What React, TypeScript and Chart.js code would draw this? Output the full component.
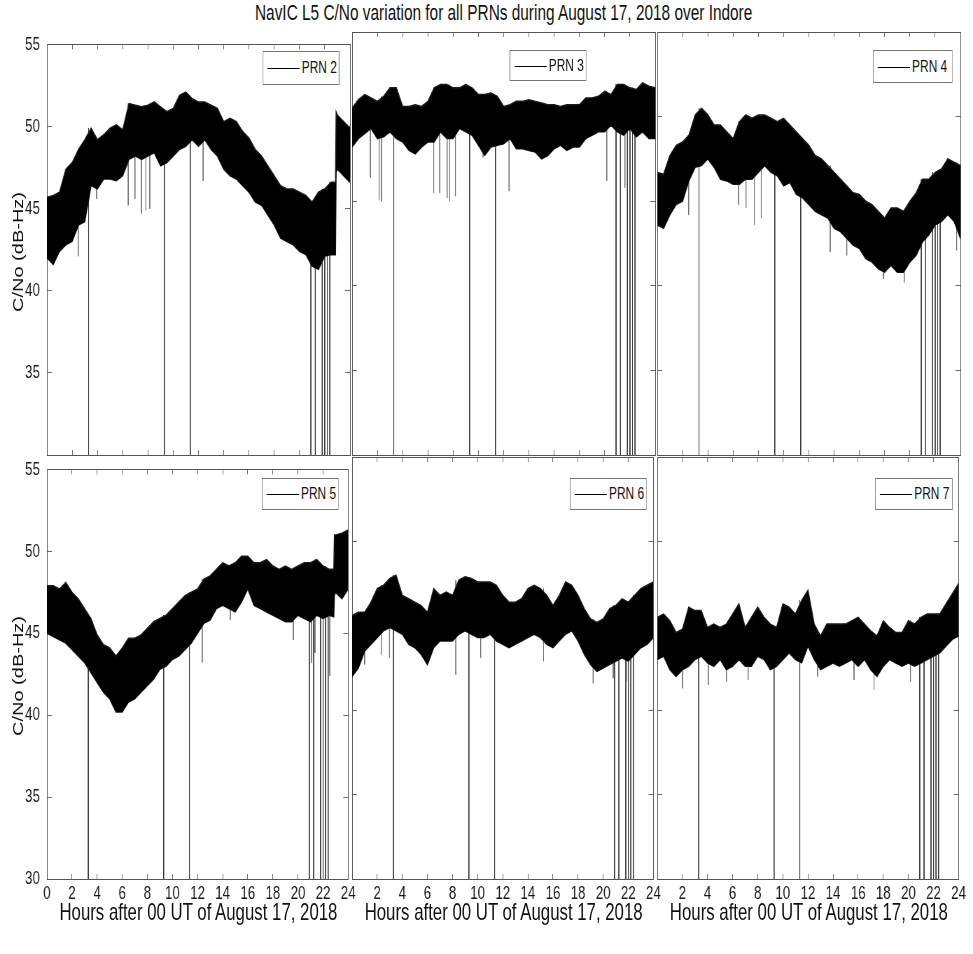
import React, { useEffect, useRef } from 'react';
import { Chart, registerables } from 'chart.js';

Chart.register(...registerables);

// ---------------- data ----------------
const HOURS = [
  0, 0.5, 1, 1.5, 2, 2.5, 3, 3.5, 4, 4.5, 5, 5.5, 6, 6.5, 7, 7.5, 8, 8.5, 9, 9.5,
  10, 10.5, 11, 11.5, 12, 12.5, 13, 13.5, 14, 14.5, 15, 15.5, 16, 16.5, 17, 17.5, 18, 18.5, 19, 19.5,
  20, 20.5, 21, 21.5, 22, 22.5, 23, 23.5, 24,
];
// PRN 2 and PRN 5 step up at about 22.9 h
const HOURS_STEP = [
  0, 0.5, 1, 1.5, 2, 2.5, 3, 3.5, 4, 4.5, 5, 5.5, 6, 6.5, 7, 7.5, 8, 8.5, 9, 9.5,
  10, 10.5, 11, 11.5, 12, 12.5, 13, 13.5, 14, 14.5, 15, 15.5, 16, 16.5, 17, 17.5, 18, 18.5, 19, 19.5,
  20, 20.5, 21, 21.5, 22, 22.5, 22.85, 22.9, 23, 23.5, 24,
];

const PRN2_UPPER = [45.7, 45.8, 46.0, 47.4, 47.8, 48.6, 49.2, 49.9, 49.2, 49.5, 49.9, 50.1, 49.8, 51.4, 51.3, 51.2, 51.3, 51.5, 51.2, 50.9, 51.1, 51.9, 52.1, 51.7, 51.5, 51.5, 51.3, 51.1, 50.3, 50.5, 50.3, 49.7, 49.3, 48.6, 48.2, 47.6, 47.0, 46.4, 46.2, 46.2, 46.0, 45.8, 45.4, 46.0, 46.2, 46.6, 46.6, 50.9, 50.7, 50.3, 49.9];
const PRN2_LOWER = [42.0, 41.6, 42.4, 42.8, 43.0, 44.0, 44.2, 46.4, 46.2, 46.8, 46.8, 46.7, 47.0, 48.0, 48.2, 48.0, 48.2, 48.4, 47.6, 47.8, 48.2, 48.6, 48.8, 49.2, 48.8, 49.2, 48.6, 48.2, 47.4, 47.0, 46.8, 46.4, 46.0, 45.4, 45.2, 44.6, 44.0, 43.2, 43.0, 42.8, 42.4, 42.2, 41.5, 41.3, 42.1, 42.2, 42.2, 47.2, 47.4, 47.0, 46.6];
const PRN2_SPIKES = [[2.48, 42.1], [3.93, 45.6], [6.44, 45.2], [6.97, 45.6], [7.49, 44.7], [7.84, 44.9], [8.15, 45.0], [12.37, 46.7]];

const PRN3_UPPER = [50.5, 51.0, 51.3, 51.1, 50.9, 51.2, 51.7, 51.7, 50.6, 50.6, 50.7, 50.6, 50.9, 51.7, 51.9, 51.9, 51.7, 51.7, 51.9, 51.7, 51.3, 51.3, 51.4, 51.2, 50.6, 50.7, 50.9, 50.9, 51.0, 50.9, 50.8, 50.7, 50.7, 50.6, 50.7, 50.7, 50.7, 51.1, 51.1, 51.2, 51.5, 51.3, 51.9, 51.9, 51.7, 51.6, 52.0, 51.8, 51.7];
const PRN3_LOWER = [48.2, 48.7, 49.0, 49.3, 48.7, 48.8, 49.1, 48.7, 48.5, 48.0, 47.8, 48.2, 48.5, 48.5, 49.1, 48.7, 48.7, 49.3, 49.1, 48.9, 48.3, 47.7, 48.2, 48.3, 48.4, 48.7, 48.1, 48.1, 48.0, 47.9, 47.5, 47.7, 48.1, 48.3, 48.0, 48.2, 48.2, 48.7, 48.9, 49.1, 49.1, 49.5, 49.1, 48.9, 49.3, 48.8, 49.1, 48.7, 48.7];
const PRN3_SPIKES = [[1.45, 46.4], [2.14, 45.1], [2.32, 45.0], [6.46, 45.5], [6.94, 45.5], [7.52, 45.2], [7.73, 45.0], [8.18, 45.3], [10.37, 47.6], [12.43, 45.6], [20.16, 46.2], [21.6, 45.8]];

const PRN4_UPPER = [46.7, 46.6, 47.7, 48.3, 48.5, 48.9, 50.1, 50.5, 50.1, 49.5, 49.5, 49.1, 48.7, 49.7, 50.1, 49.9, 50.1, 50.1, 49.9, 49.7, 49.9, 49.5, 49.1, 48.7, 48.3, 47.7, 47.5, 47.1, 46.7, 46.3, 45.9, 45.5, 45.4, 45.0, 44.8, 44.4, 44.0, 44.6, 44.6, 44.4, 45.0, 45.5, 46.3, 46.3, 46.7, 46.9, 47.5, 47.3, 47.1];
const PRN4_LOWER = [43.6, 43.4, 44.2, 44.8, 45.0, 46.2, 47.0, 47.1, 47.5, 47.0, 46.3, 46.2, 46.0, 46.0, 46.3, 46.3, 46.7, 47.1, 46.7, 46.5, 45.9, 46.1, 45.4, 45.2, 44.8, 44.4, 44.2, 44.0, 43.4, 43.2, 42.8, 42.4, 42.2, 41.6, 41.4, 41.0, 40.8, 41.2, 40.8, 40.8, 41.4, 41.8, 42.6, 43.0, 43.6, 43.8, 44.2, 43.8, 42.8];
const PRN4_SPIKES = [[2.48, 44.2], [6.44, 44.8], [7.02, 44.6], [7.68, 43.6], [8.23, 44.0], [13.69, 42.0], [15.0, 41.8], [17.9, 40.4], [19.55, 40.2], [23.7, 42.1]];

const PRN5_UPPER = [47.9, 47.9, 47.7, 48.1, 47.5, 47.1, 46.5, 45.9, 44.9, 44.3, 44.1, 43.6, 44.1, 44.7, 44.7, 44.9, 45.3, 45.7, 45.9, 46.1, 46.5, 46.9, 47.3, 47.5, 47.7, 48.3, 48.5, 48.9, 49.3, 49.1, 49.3, 49.7, 49.7, 49.3, 49.3, 49.5, 49.1, 48.9, 49.1, 48.9, 49.1, 49.3, 49.3, 49.5, 49.1, 48.9, 48.9, 51.0, 51.0, 51.1, 51.3];
const PRN5_LOWER = [45.0, 44.8, 44.6, 44.4, 44.0, 43.6, 43.2, 42.6, 42.0, 41.4, 41.0, 40.2, 40.2, 40.8, 41.0, 41.4, 41.8, 42.2, 42.8, 43.0, 43.4, 43.6, 44.0, 44.4, 45.0, 45.6, 45.8, 46.5, 46.7, 46.5, 46.3, 46.9, 47.7, 46.7, 46.5, 46.3, 46.1, 45.9, 45.7, 45.7, 46.1, 45.9, 45.7, 46.1, 45.9, 46.1, 46.0, 47.3, 47.5, 47.1, 47.7];
const PRN5_SPIKES = [[12.37, 43.2], [14.6, 45.8], [19.63, 44.6], [21.08, 43.2], [21.35, 43.8], [22.53, 42.4]];

const PRN6_UPPER = [45.6, 45.8, 45.8, 46.4, 47.2, 47.4, 47.8, 48.0, 46.8, 46.6, 46.4, 46.2, 45.8, 47.2, 46.8, 47.0, 46.8, 47.7, 47.9, 47.8, 47.6, 47.6, 47.6, 47.4, 46.8, 46.4, 46.4, 46.6, 47.2, 47.4, 47.2, 46.8, 46.2, 46.8, 47.6, 47.4, 46.8, 46.0, 45.4, 45.2, 45.4, 46.0, 46.2, 46.6, 46.4, 46.8, 47.2, 47.4, 47.6];
const PRN6_LOWER = [42.0, 42.5, 43.5, 43.9, 44.3, 44.7, 44.9, 44.7, 44.5, 43.9, 43.7, 43.3, 42.7, 43.7, 44.1, 44.1, 44.1, 44.5, 44.7, 44.5, 44.3, 44.3, 44.5, 44.1, 43.9, 43.7, 43.9, 44.1, 44.3, 44.5, 44.3, 43.9, 43.7, 44.1, 44.5, 44.7, 44.1, 43.3, 42.7, 42.3, 42.5, 42.7, 42.9, 43.1, 42.9, 43.3, 43.7, 43.9, 44.3];
const PRN6_SPIKES = [[1.0, 42.7], [2.32, 43.3], [2.98, 43.1], [8.26, 42.1], [10.24, 43.1], [15.25, 42.9], [19.2, 41.6], [20.8, 41.9], [21.85, 41.7]];

const PRN7_UPPER = [45.5, 45.7, 45.3, 44.6, 44.8, 46.1, 45.9, 45.9, 44.9, 45.1, 44.9, 45.1, 45.7, 46.3, 44.9, 45.5, 46.1, 45.5, 45.1, 44.9, 46.3, 46.1, 45.7, 46.5, 47.1, 45.1, 44.4, 45.1, 45.1, 45.1, 45.1, 45.3, 45.5, 45.1, 44.7, 44.4, 45.3, 44.9, 44.6, 44.6, 45.3, 45.1, 45.5, 45.7, 45.7, 45.7, 46.3, 46.9, 47.5];
const PRN7_LOWER = [43.0, 43.2, 42.4, 42.0, 42.4, 42.6, 43.0, 43.2, 42.8, 42.6, 43.0, 42.4, 42.6, 43.0, 42.6, 42.6, 43.2, 43.0, 42.4, 42.6, 43.0, 43.4, 43.0, 42.8, 43.8, 43.0, 42.4, 42.6, 42.8, 42.6, 42.8, 43.0, 42.6, 43.0, 42.4, 42.0, 42.6, 43.0, 42.8, 42.6, 42.8, 42.6, 42.8, 43.0, 43.2, 43.4, 43.8, 44.2, 44.4];
const PRN7_SPIKES = [[2.0, 41.3], [4.06, 41.5], [5.5, 41.7], [7.23, 41.8], [12.77, 42.0], [15.67, 41.8], [17.26, 41.2], [20.16, 41.7]];

// receiver outages (C/No drops to zero)
const OUTAGE_HOURS = [3.3, 9.3, 11.35, 20.9, 21.25, 21.8, 22.0, 22.2, 22.4];
const OUTAGE_VALUE = 0;

const X_MIN = 0, X_MAX = 24, X_STEP = 2;
const Y_MIN = 30, Y_MAX = 55, Y_STEP = 5;

const TITLE = 'NavIC L5 C/No variation for all PRNs during August 17, 2018 over Indore';
const X_LABEL = 'Hours after 00 UT of August 17, 2018';
const Y_LABEL = 'C/No (dB-Hz)';

const PANELS = [
  { name: 'PRN 2', hours: HOURS_STEP, up: PRN2_UPPER, lo: PRN2_LOWER, spikes: PRN2_SPIKES },
  { name: 'PRN 3', hours: HOURS, up: PRN3_UPPER, lo: PRN3_LOWER, spikes: PRN3_SPIKES },
  { name: 'PRN 4', hours: HOURS, up: PRN4_UPPER, lo: PRN4_LOWER, spikes: PRN4_SPIKES },
  { name: 'PRN 5', hours: HOURS_STEP, up: PRN5_UPPER, lo: PRN5_LOWER, spikes: PRN5_SPIKES },
  { name: 'PRN 6', hours: HOURS, up: PRN6_UPPER, lo: PRN6_LOWER, spikes: PRN6_SPIKES },
  { name: 'PRN 7', hours: HOURS, up: PRN7_UPPER, lo: PRN7_LOWER, spikes: PRN7_SPIKES },
];

// ---------------- layout (virtual, unsqueezed px) ----------------
const SQ = 0.7; // horizontal squeeze of the whole figure
const VW = Math.round(973 / SQ);
const FONT = "'Liberation Sans', Arial, Helvetica, sans-serif";
const COL_X = [67, 503, 939];
const PW = 433;
const ROW_Y = [32, 457];
const PH = [423, 422];
const LW = 60, PAD = 16, BH = 45;
const TICK_FONT = 19;
const LEGENDS = [
  { x: 375, y: 51, w: 110, h: 34 },
  { x: 728, y: 50, w: 110, h: 31 },
  { x: 1247, y: 50, w: 114, h: 33 },
  { x: 374, y: 478, w: 110, h: 32 },
  { x: 814, y: 478, w: 110, h: 32 },
  { x: 1250, y: 478, w: 111, h: 32 },
];

function axisX(pos: string, show: boolean, c: number) {
  return {
    type: 'linear', position: pos, min: X_MIN, max: X_MAX,
    ticks: {
      display: show, stepSize: X_STEP, autoSkip: false, maxRotation: 0, padding: 8,
      color: '#1a1a1a', font: { family: FONT, size: TICK_FONT },
      callback: (v: number) => (c > 0 && v === X_MIN ? '' : String(v)),
    },
    grid: { display: true, drawOnChartArea: false, drawTicks: true, tickLength: -5, color: '#6a6a6a', lineWidth: 1 },
    border: { display: true, color: '#555', width: 1 },
    afterFit: (s: any) => { s.height = pos === 'bottom' ? BH : 0; },
  };
}

function axisY(pos: string, show: boolean, r: number) {
  return {
    type: 'linear', position: pos, min: Y_MIN, max: Y_MAX,
    ticks: {
      display: show, stepSize: Y_STEP, padding: 17,
      color: '#1a1a1a', font: { family: FONT, size: TICK_FONT },
      callback: (v: number) => (r === 0 && v === Y_MIN ? '' : String(v)),
    },
    grid: { display: true, drawOnChartArea: false, drawTicks: true, tickLength: -7, color: '#6a6a6a', lineWidth: 1 },
    border: { display: true, color: '#555', width: 1 },
    afterFit: (s: any) => { s.width = pos === 'left' ? LW : 0; },
  };
}

function Panel({ idx }: { idx: number }) {
  const ref = useRef<HTMLCanvasElement>(null);
  const r = Math.floor(idx / 3), c = idx % 3;
  const w = LW + PW + PAD, h = PAD + PH[r] + BH;
  useEffect(() => {
    const p = PANELS[idx];
    const nearest = (t: number) => {
      let best = 0;
      p.hours.forEach((hh, i) => { if (Math.abs(hh - t) < Math.abs(p.hours[best] - t)) best = i; });
      return best;
    };
    const band = (arr: number[]) => p.hours.map((x, i) => ({ x, y: arr[i] }));
    const segs = (list: number[][]) =>
      list.flatMap(([t, v]) => [{ x: t, y: p.up[nearest(t)] }, { x: t, y: v }, { x: t, y: null }]);
    const chart = new Chart(ref.current as HTMLCanvasElement, {
      type: 'line',
      data: {
        datasets: [
          { label: p.name, data: band(p.up), borderColor: '#1a1a1a', borderWidth: 1.5, backgroundColor: '#000', fill: '+1', pointRadius: 0, tension: 0 },
          { label: p.name + ' min', data: band(p.lo), borderColor: '#1a1a1a', borderWidth: 1.5, pointRadius: 0, fill: false, tension: 0 },
          { label: 'spikes', data: segs(p.spikes), borderColor: '#6e6e6e', borderWidth: 1, pointRadius: 0, spanGaps: false, fill: false },
          { label: 'outages', data: segs(OUTAGE_HOURS.map((t) => [t, OUTAGE_VALUE])), borderColor: '#333', borderWidth: 1, pointRadius: 0, spanGaps: false, fill: false },
        ],
      } as any,
      options: {
        responsive: false,
        animation: false,
        devicePixelRatio: 1,
        events: [],
        layout: { padding: { top: PAD, right: PAD, left: 0, bottom: 0 }, autoPadding: false },
        plugins: { legend: { display: false }, tooltip: { enabled: false } },
        scales: {
          x: axisX('bottom', r === 1, c),
          xt: axisX('top', false, c),
          y: axisY('left', c === 0, r),
          yr: axisY('right', false, r),
        },
      } as any,
    });
    return () => chart.destroy();
  }, [idx]);
  return (
    <canvas
      ref={ref}
      width={w}
      height={h}
      style={{ position: 'absolute', left: COL_X[c] - LW, top: ROW_Y[r] - PAD, width: w, height: h }}
    />
  );
}

function Legend({ idx }: { idx: number }) {
  const L = LEGENDS[idx];
  return (
    <div style={{
      position: 'absolute', left: L.x, top: L.y, width: L.w, height: L.h, boxSizing: 'border-box',
      border: '1px solid #777', background: '#fff', fontFamily: FONT, fontSize: 17, color: '#111',
    }}>
      <div style={{ position: 'absolute', left: 6, width: 46, top: Math.round(L.h / 2) - 1, borderTop: '1px solid #000' }} />
      <div style={{ position: 'absolute', left: 55, top: 0, height: L.h - 2, lineHeight: (L.h - 2) + 'px', whiteSpace: 'nowrap' }}>
        {PANELS[idx].name}
      </div>
    </div>
  );
}

export default function App() {
  useEffect(() => { document.body.style.overflow = 'hidden'; }, []);
  const gridLeft = COL_X[0];
  const gridRight = COL_X[2] + PW;
  return (
    <div style={{
      position: 'absolute', left: 0, top: 0, width: VW, height: 954, background: '#fff',
      transform: `scaleX(${SQ})`, transformOrigin: '0 0', fontFamily: FONT, color: '#111',
    }}>
      <div style={{ position: 'absolute', left: gridLeft, width: gridRight - gridLeft, top: 1, textAlign: 'center', fontSize: 22, lineHeight: '24px', whiteSpace: 'nowrap' }}>
        {TITLE}
      </div>
      {PANELS.map((_, i) => <Panel key={i} idx={i} />)}
      {PANELS.map((_, i) => <Legend key={'l' + i} idx={i} />)}
      {COL_X.map((x, i) => (
        <div key={'xl' + i} style={{ position: 'absolute', left: x, width: PW, top: 898, textAlign: 'center', fontSize: 24, lineHeight: '28px', whiteSpace: 'nowrap' }}>
          {X_LABEL}
        </div>
      ))}
      {ROW_Y.map((y, i) => (
        <div key={'yl' + i} style={{
          position: 'absolute', left: 26, top: y + PH[i] / 2 + 8, transform: 'translate(-50%, -50%) rotate(-90deg)',
          fontSize: 20, lineHeight: '22px', whiteSpace: 'nowrap',
        }}>
          {Y_LABEL}
        </div>
      ))}
    </div>
  );
}
